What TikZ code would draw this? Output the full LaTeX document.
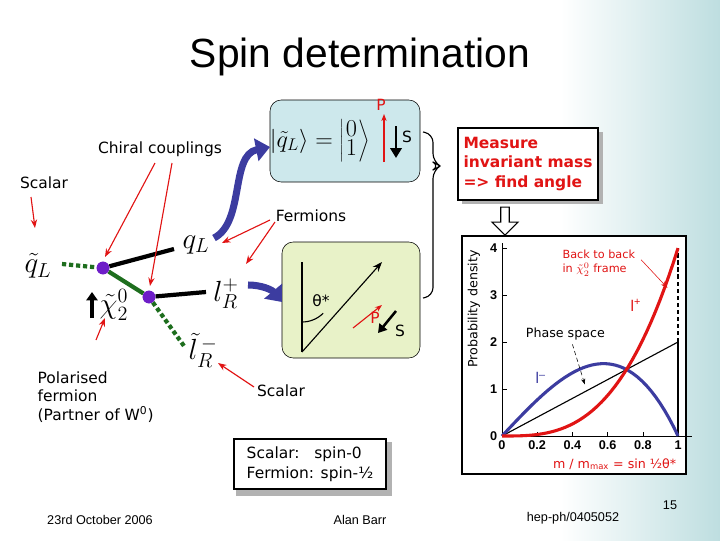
\documentclass[tikz,border=0pt]{standalone}
\usepackage{fontspec}
\setmainfont{Liberation Sans}
\newfontfamily\cmc{DejaVu Sans}
\usetikzlibrary{arrows.meta,shapes.arrows}
\definecolor{blueb}{RGB}{205,232,236}
\definecolor{greenb}{RGB}{232,242,200}
\definecolor{darr}{RGB}{60,60,160}
\definecolor{dgreen}{RGB}{30,110,30}
\definecolor{vert}{RGB}{110,30,200}
\definecolor{redc}{RGB}{225,20,20}
\definecolor{side}{RGB}{190,222,224}
\begin{document}
\begin{tikzpicture}[x=0.025cm,y=-0.025cm,
 lab/.style={font=\cmc\fontsize{11}{13}\selectfont,inner sep=1pt},
 redarr/.style={redc,thick,-{Stealth[length=6pt]}},
 bluearr/.style={darr,line width=5pt,-{Triangle[length=10pt,width=16pt]}},
 vtx/.style={circle,fill=vert,inner sep=0pt,minimum size=9pt},
 math/.style={font=\fontsize{20}{22}\selectfont,inner sep=1pt},
 shadowbox/.style={draw,thick,fill=white,align=left,inner sep=3pt}]
\useasboundingbox (0,0) rectangle (720,540);
\shade[left color=white,right color=side] (560,0) rectangle (720,540);
\node (title) at (360,57) {\fontsize{29}{32}\selectfont Spin determination};
% boxes
\node[draw,rounded corners=8pt,fill=blueb,minimum width=150*0.025cm,minimum height=82*0.025cm] (tb) at (345,141) {};
\node[draw,rounded corners=8pt,fill=greenb,minimum width=138*0.025cm,minimum height=116*0.025cm] (gb) at (351,300) {};
\node[math,font=\fontsize{17}{19}\selectfont] (ket) at (320,141) {$\left|\tilde q_L\right\rangle=\left|{\displaystyle 0\atop\displaystyle 1}\right\rangle$};
\coordinate (pa) at (384,162); \coordinate (pb) at (384,114);
\draw[redc,thick,-{Stealth[length=5pt]}] (pa) -- (pb);
\node[lab,redc] (plab) at (381,105) {P};
\coordinate (sa) at (396,126); \coordinate (sb) at (396,158);
\draw[line width=1.8pt,-{Triangle[length=7pt,width=8pt]}] (sa) -- (sb);
\node[lab] (slab) at (407,137) {S};
% green box content
\coordinate (o) at (302,352); \coordinate (vt) at (302,262); \coordinate (tip) at (382,262);
\draw[thick] (vt) -- (o);
\draw[thick,-{Stealth[length=7pt]}] (o) -- (tip);
\draw[thick] (302,322) arc[start angle=90,end angle=45,radius=30];
\node[lab] (th) at (321,301) {θ*};
\coordinate (ra) at (353,328); \coordinate (rb) at (382,305);
\draw[redc,thick,-{Stealth[length=5pt]}] (ra) -- (rb);
\node[lab,redc] (p2) at (375,318) {P};
\coordinate (ka) at (396,311); \coordinate (kb) at (378,333);
\draw[line width=1.8pt,-{Triangle[length=6pt,width=7pt]}] (ka) -- (kb);
\node[lab] (s2) at (400,331) {S};
% brace
\draw[thick,rounded corners=6pt] (423,132) -- (433,134) -- (433,162) -- (440,166) -- (433,170) -- (433,296) -- (423,298);
% measure box
\fill[gray!60] (462,132) rectangle (603,204);
\node[shadowbox,minimum width=140*0.025cm,minimum height=72*0.025cm,text=redc,font=\cmc\bfseries\fontsize{11}{14}\selectfont] (meas) at (528,164) {Measure\\invariant mass\\=> find angle};
\node[single arrow,draw,thick,fill=white,shape border rotate=270,minimum height=28*0.025cm,minimum width=26*0.025cm,single arrow head extend=5pt,inner sep=2pt] (down) at (505,219) {};
% decay diagram
\node[vtx] (v1) at (103,268) {};
\node[vtx] (v2) at (149,297) {};
\node[math] (qt) at (38,266) {$\tilde q_L$};
\node[math] (ql) at (196,245) {$q_L$};
\node[math] (lr) at (226,294) {$l_R^+$};
\node[math] (lt) at (203,350) {$\tilde l_R^{\,-}$};
\node[math] (chi) at (114,305) {$\tilde\chi_2^0$};
\coordinate (ca) at (92,318); \coordinate (cb) at (92,292);
\draw[line width=2.2pt,-{Triangle[length=6pt,width=8pt]}] (ca) -- (cb);
\coordinate (qe) at (62,264); \coordinate (qle) at (174,249); \coordinate (lre) at (206,292); \coordinate (lte) at (184,346);
\draw[dgreen,line width=3pt,dash pattern=on 3pt off 2pt] (qe) -- (v1);
\draw[line width=3pt] (v1) -- (qle);
\draw[dgreen,line width=3pt] (v1) -- (v2);
\draw[line width=3pt] (v2) -- (lre);
\draw[dgreen,line width=3pt,dash pattern=on 3pt off 2pt] (v2) -- (lte);
\node[vtx] at (103,268) {}; \node[vtx] at (149,297) {};
% labels and red arrows
\node[lab] (cc) at (160,149) {Chiral couplings};
\node[lab] (sc1) at (44,183) {Scalar};
\node[lab] (fe) at (311,216) {Fermions};
\node[lab] (sc2) at (281,391) {Scalar};
\node[lab,align=left,anchor=north west] (pol) at (36,370) {Polarised\\fermion\\(Partner of W\textsuperscript{0})};
\coordinate (c1) at (155,163); \coordinate (c2) at (172,163);
\draw[redarr] (c1) -- (105,257);
\draw[redarr] (c2) -- (150,286);
\draw[redarr] (31,197) -- (35,228);
\draw[redarr] (270,220) -- (222,243);
\draw[redarr] (275,222) -- (246,264);
\draw[redarr] (254,387) -- (218,363);
\draw[redarr] (96,340) -- (105,318);
% blue arrows
\draw[bluearr] (214,238) .. controls (245,222) and (230,155) .. (270,147);
\draw[bluearr] (248,285) .. controls (262,285) and (272,290) .. (282,302);
% spin box
\fill[gray!60] (236,442) rectangle (392,496);
\node[shadowbox,minimum width=152*0.025cm,minimum height=50*0.025cm,font=\cmc\fontsize{11}{14}\selectfont] (spin) at (310,464) {Scalar:\ \ \ spin-0\\Fermion: spin-½};
% plot
\node[draw,thick,fill=white,minimum width=224*0.025cm,minimum height=238*0.025cm] (plot) at (574,355) {};
\begin{scope}[shift={(502,436)},x=4.4cm,y=1.175cm]
 \draw (0,0) -- (1.08,0); \draw (0,0) -- (0,4.1);
 \foreach \t in {0,0.2,0.4,0.6,0.8,1}{\draw (\t,0) -- (\t,0.08); \node[font=\bfseries\fontsize{9}{10}\selectfont,below] at (\t,0) {\t};}
 \foreach \t in {0,1,2,3,4}{\draw (0,\t) -- (0.03,\t); \node[font=\bfseries\fontsize{9}{10}\selectfont,left] at (0,\t) {\t};}
 \draw[thick] (0,0) -- (1,2);
 \draw[thick] (1,0) -- (1,2);
 \draw[thick,densely dashed] (1,2) -- (1,4);
 \draw[darr,line width=2.2pt,domain=0:1,samples=40] plot (\x,{4*\x*(1-\x*\x)});
 \draw[redc,line width=2.2pt,domain=0:1,samples=40] plot (\x,{4*\x*\x*\x});
 \node[redc,font=\fontsize{11}{12}\selectfont] at (0.76,2.78) {l\textsuperscript{+}};
 \node[darr,font=\fontsize{11}{12}\selectfont] at (0.22,1.23) {l\textsuperscript{–}};
 \node[font=\cmc\fontsize{9}{10}\selectfont] at (0.36,2.17) {Phase space};
 \draw[-{Stealth[length=4pt]},densely dashed] (0.4,1.95) -- (0.47,1.1);
 \node[redc,font=\cmc\fontsize{8}{10}\selectfont,align=left] at (0.55,3.68) {Back to back\\in $\tilde\chi_2^0$ frame};
 \draw[redc,-{Stealth[length=5pt]}] (0.79,3.75) -- (0.94,3.15);
 \node[redc,font=\cmc\fontsize{9}{10}\selectfont] at (0.64,-0.6) {m / m\textsubscript{max} = sin ½θ*};
 \node[rotate=90,font=\cmc\fontsize{9}{10}\selectfont] at (-0.16,2.7) {Probability density};
\end{scope}
% footer
\node[font=\fontsize{9}{10}\selectfont] (date) at (100,520) {23rd October 2006};
\node[font=\fontsize{9}{10}\selectfont] (auth) at (360,520) {Alan Barr};
\node[font=\fontsize{9}{10}\selectfont] (hep) at (573,518) {hep-ph/0405052};
\node[font=\fontsize{9}{10}\selectfont] (num) at (670,505) {15};
\end{tikzpicture}
\end{document}
